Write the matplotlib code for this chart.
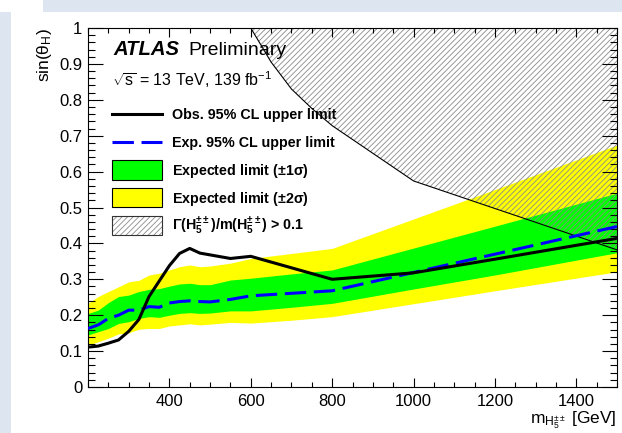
import matplotlib
matplotlib.use('Agg')
import matplotlib.pyplot as plt
from matplotlib.patches import Rectangle
from matplotlib.ticker import MultipleLocator, FixedLocator

plt.rcParams['font.family'] = ['Liberation Sans', 'DejaVu Sans']
plt.rcParams['mathtext.fontset'] = 'custom'
plt.rcParams['mathtext.rm'] = 'Liberation Sans'
plt.rcParams['mathtext.it'] = 'Liberation Sans:italic'
plt.rcParams['mathtext.bf'] = 'Liberation Sans:bold'
plt.rcParams['mathtext.default'] = 'regular'
plt.rcParams['hatch.linewidth'] = 0.6

# ---------------- data ----------------
mass = [200, 225, 250, 275, 300, 325, 350, 375, 400, 425, 450, 475, 500,
        550, 600, 700, 800, 1000, 1200, 1500]
observed = [0.111, 0.114, 0.122, 0.131, 0.155, 0.188, 0.252, 0.295, 0.338,
            0.372, 0.386, 0.373, 0.368, 0.358, 0.364, 0.332, 0.300, 0.318,
            0.356, 0.414]
expected = [0.163, 0.173, 0.191, 0.200, 0.214, 0.214, 0.224, 0.222, 0.234,
            0.238, 0.240, 0.238, 0.237, 0.244, 0.254, 0.261, 0.268, 0.319,
            0.370, 0.447]
plus1 = [0.205, 0.214, 0.235, 0.252, 0.256, 0.266, 0.272, 0.274, 0.281,
         0.287, 0.289, 0.285, 0.285, 0.298, 0.303, 0.315, 0.326, 0.387,
         0.448, 0.540]
minus1 = [0.145, 0.154, 0.163, 0.177, 0.182, 0.191, 0.196, 0.194, 0.200,
          0.205, 0.207, 0.205, 0.206, 0.212, 0.212, 0.222, 0.233, 0.273,
          0.312, 0.374]
plus2 = [0.233, 0.252, 0.266, 0.279, 0.293, 0.297, 0.312, 0.317, 0.326,
         0.335, 0.340, 0.335, 0.337, 0.345, 0.358, 0.372, 0.386, 0.468,
         0.550, 0.674]
minus2 = [0.117, 0.126, 0.136, 0.148, 0.151, 0.161, 0.163, 0.163, 0.170,
          0.173, 0.176, 0.173, 0.175, 0.180, 0.178, 0.186, 0.196, 0.232,
          0.268, 0.321]
width_mass = [600, 650, 700, 750, 800, 1000, 1500]
width_sin = [1.0, 0.905, 0.830, 0.776, 0.728, 0.574, 0.382]

x_ticks = [400, 600, 800, 1000, 1200, 1400]
y_ticks = [0, 0.1, 0.2, 0.3, 0.4, 0.5, 0.6, 0.7, 0.8, 0.9, 1]
y_ticklabels = ['0', '0.1', '0.2', '0.3', '0.4', '0.5', '0.6', '0.7', '0.8', '0.9', '1']

legend_labels = ['Obs. 95% CL upper limit', 'Exp. 95% CL upper limit',
                 r'Expected limit ($\pm$1$\sigma$)', r'Expected limit ($\pm$2$\sigma$)',
                 r'$\Gamma$(H$_{5}^{\pm\pm}$)/m(H$_{5}^{\pm\pm}$) > 0.1']

W, H = 622, 433
fig = plt.figure(figsize=(W / 100, H / 100), dpi=100, facecolor='#dce5f0')
fig.patches.append(Rectangle((11 / W, 0), 1, (H - 12) / H, transform=fig.transFigure,
                             facecolor='white', edgecolor='none', zorder=-10))
fig.patches.append(Rectangle((0, 1 - 12 / H), 43 / W, 12 / H, transform=fig.transFigure,
                             facecolor='white', edgecolor='none', zorder=-10))

L, R, T, B = 88, 617, 28, 387
ax = fig.add_axes([L / W, (H - B) / H, (R - L) / W, (B - T) / H])

green = '#00ff00'
yellow = '#ffff00'
hatch_col = '#8a8a8a'
HATCH = '//////'
DASH = (0, (7, 2.5))

ax.fill_between(mass, minus2, plus2, color=yellow, lw=0, zorder=1)
ax.fill_between(mass, minus1, plus1, color=green, lw=0, zorder=1.1)
ax.fill_between(width_mass, width_sin, 1.0, facecolor='none', edgecolor=hatch_col,
                hatch=HATCH, lw=0, zorder=1.2)
ax.plot(width_mass, width_sin, color='black', lw=0.8, zorder=1.3)
ax.plot(mass, expected, color='#0000ff', lw=2.2, ls=DASH, zorder=3)
ax.plot(mass, observed, color='black', lw=2.2, zorder=3.1)

ax.set_xlim(200, 1500)
ax.set_ylim(0, 1)
ax.set_axisbelow(False)
ax.xaxis.set_major_locator(FixedLocator(x_ticks))
ax.xaxis.set_minor_locator(MultipleLocator(50))
ax.set_xticklabels([str(v) for v in x_ticks])
ax.yaxis.set_major_locator(FixedLocator(y_ticks))
ax.yaxis.set_minor_locator(MultipleLocator(0.02))
ax.set_yticklabels(y_ticklabels)
ax.tick_params(axis='both', which='both', direction='in', top=True, right=True,
               width=0.8, labelsize=12, colors='black')
ax.tick_params(axis='x', which='major', length=6.5, pad=5)
ax.tick_params(axis='x', which='minor', length=3.3)
ax.tick_params(axis='y', which='major', length=10.5, pad=4)
ax.tick_params(axis='y', which='minor', length=5.3)
for s in ax.spines.values():
    s.set_linewidth(0.8)

ax.set_xlabel(r'm$_{\mathrm{H}_{5}^{\pm\pm}}$ [GeV]', fontsize=12.5, loc='right', labelpad=0)
ax.set_ylabel(r'sin($\theta_{\mathrm{H}}$)', fontsize=12.5, loc='top', labelpad=4)


def axx(px):
    return (px - L) / (R - L)


def axy(py):
    return (B - py) / (B - T)


ax.text(axx(113), axy(55), 'ATLAS', fontsize=14.6, fontweight='bold', fontstyle='italic',
        transform=ax.transAxes, va='baseline', ha='left', zorder=6)
ax.text(axx(188), axy(55), 'Preliminary', fontsize=14,
        transform=ax.transAxes, va='baseline', ha='left', zorder=6)
ax.text(axx(112), axy(86), r'$\sqrt{s}$ = 13 TeV, 139 fb$^{-1}$', fontsize=11.5,
        transform=ax.transAxes, va='baseline', ha='left', zorder=6)

# ---- legend (drawn by hand to match the ROOT layout) ----
rows = [114, 142, 170, 197.5, 225.5]
hx0, hx1, tx = 112, 162, 172
bh = 19.5
tr = ax.transAxes
ax.plot([axx(hx0), axx(hx1)], [axy(rows[0])] * 2, color='black', lw=2.2,
        transform=tr, clip_on=False, zorder=6)
ax.plot([axx(hx0), axx(hx1)], [axy(rows[1])] * 2, color='#0000ff', lw=2.2, ls=DASH,
        transform=tr, clip_on=False, zorder=6)
for yc, fc in [(rows[2], green), (rows[3], yellow)]:
    ax.add_patch(Rectangle((axx(hx0), axy(yc + bh / 2)), axx(hx1) - axx(hx0), bh / (B - T),
                           transform=tr, facecolor=fc, edgecolor='black', lw=0.8,
                           clip_on=False, zorder=6))
yc = rows[4]
ax.add_patch(Rectangle((axx(hx0), axy(yc + bh / 2)), axx(hx1) - axx(hx0), bh / (B - T),
                       transform=tr, facecolor='white', edgecolor=hatch_col, hatch=HATCH,
                       lw=0, clip_on=False, zorder=6))
ax.add_patch(Rectangle((axx(hx0), axy(yc + bh / 2)), axx(hx1) - axx(hx0), bh / (B - T),
                       transform=tr, facecolor='none', edgecolor='#333333', lw=0.8,
                       clip_on=False, zorder=6.1))
for yc, lab in zip(rows, legend_labels):
    ax.text(axx(tx), axy(yc + 5), lab, fontsize=10.3, fontweight='bold',
            transform=tr, va='baseline', ha='left', zorder=6)

fig.savefig('out.png', dpi=100, facecolor=fig.get_facecolor())
